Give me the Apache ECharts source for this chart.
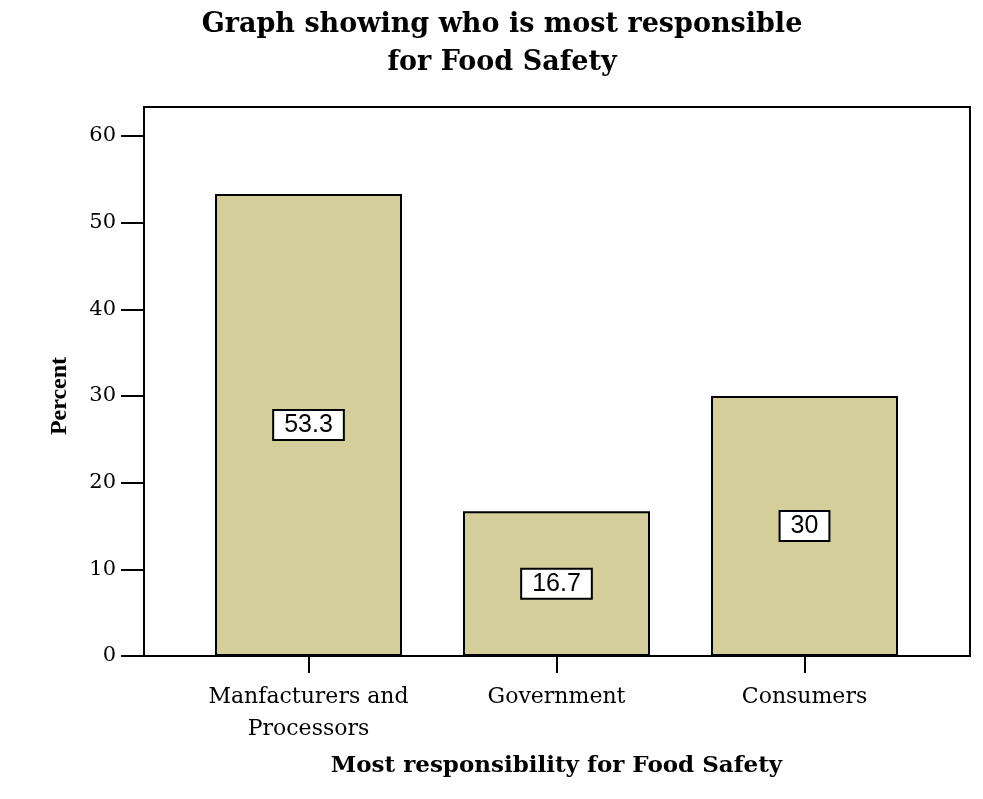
<!DOCTYPE html>
<html>
<head>
<meta charset="utf-8">
<title>Food Safety</title>
<script src="https://cdn.jsdelivr.net/npm/echarts@6/dist/echarts.min.js"></script>
<style>
  html, body { margin: 0; padding: 0; background: #fff; }
</style>
</head>
<body>
<div id="main" style="width: 983px; height: 799px;"></div>
<script type="text/javascript">
  // chart data
  var categories = ['Manfacturers and\nProcessors', 'Government', 'Consumers'];
  var percents = [53.3, 16.7, 30];
  var yTicks = { min: 0, max: 60, interval: 10 };

  var serif = '"DejaVu Serif", "Liberation Serif", serif';

  var myChart = echarts.init(document.getElementById('main'));
  var option = {
    backgroundColor: '#ffffff',
    animation: false,
    title: {
      text: 'Graph showing who is most responsible\nfor Food Safety',
      left: 497,
      top: 1,
      textAlign: 'center',
      textStyle: {
        fontFamily: serif,
        fontWeight: 'bold',
        fontSize: 27,
        lineHeight: 38,
        color: '#000'
      }
    },
    grid: {
      left: 184.5,
      right: 54.5,
      top: 136,
      bottom: 143
    },
    // outer frame of the plot area
    graphic: [{
      type: 'rect',
      shape: { x: 144, y: 107, width: 826, height: 549 },
      style: { fill: 'none', stroke: '#000', lineWidth: 2 },
      z: 1
    }],
    xAxis: {
      type: 'category',
      data: categories,
      name: 'Most responsibility for Food Safety',
      nameLocation: 'middle',
      nameGap: 99,
      nameTextStyle: {
        fontFamily: serif,
        fontWeight: 'bold',
        fontSize: 23,
        color: '#000'
      },
      axisLine: { show: true, lineStyle: { color: '#000', width: 2 } },
      axisTick: { show: true, interval: 0, alignWithLabel: true, length: 17, lineStyle: { color: '#000', width: 2 } },
      axisLabel: {
        interval: 0,
        hideOverlap: false,
        margin: 25,
        fontFamily: serif,
        fontSize: 22,
        lineHeight: 32,
        color: '#000'
      },
      splitLine: { show: false }
    },
    yAxis: {
      type: 'value',
      min: yTicks.min,
      max: yTicks.max,
      interval: yTicks.interval,
      offset: 40.5,
      name: 'Percent',
      nameLocation: 'middle',
      nameRotate: 90,
      nameGap: 72,
      nameTextStyle: {
        fontFamily: '"Liberation Serif", serif',
        fontWeight: 'bold',
        fontSize: 24,
        color: '#000'
      },
      axisLine: { show: true, lineStyle: { color: '#000', width: 2 } },
      axisTick: { show: true, length: 23, lineStyle: { color: '#000', width: 2 } },
      axisLabel: {
        margin: 28,
        fontFamily: serif,
        fontSize: 21,
        color: '#000'
      },
      splitLine: { show: false }
    },
    series: [{
      type: 'bar',
      data: percents,
      barWidth: 187,
      z: 3,
      itemStyle: {
        color: '#D4CF9A',
        borderColor: '#000',
        borderWidth: 2
      },
      label: {
        show: true,
        position: 'inside',
        fontFamily: '"Liberation Sans", Arial, sans-serif',
        fontSize: 25,
        color: '#000',
        backgroundColor: '#fff',
        borderColor: '#000',
        borderWidth: 2,
        padding: [2, 10, 1, 10]
      }
    }]
  };
  myChart.setOption(option);
</script>
</body>
</html>
